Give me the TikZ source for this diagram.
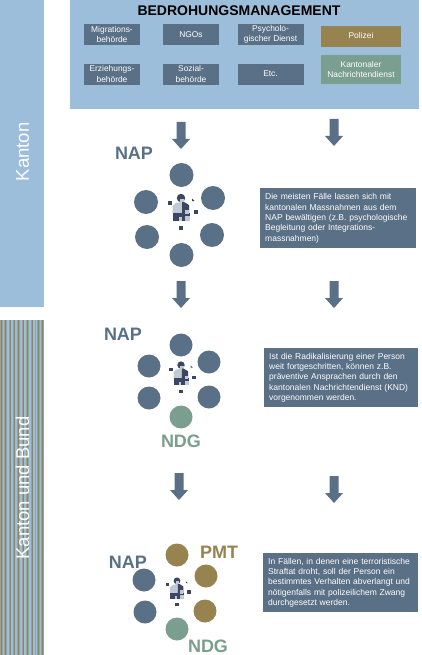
\documentclass[tikz,border=0pt]{standalone}
\usepackage{fontspec}
\setmainfont{Liberation Sans}
\definecolor{panelblue}{HTML}{9CBEDA}
\definecolor{slatebox}{HTML}{5A7086}
\definecolor{goldbox}{HTML}{97834F}
\definecolor{greenbox}{HTML}{7A9E8F}
\definecolor{icondark}{HTML}{3E4464}
\definecolor{iconlight}{HTML}{BFCAD4}
\definecolor{stripegrey}{HTML}{8FA3A8}
\tikzset{
  x=1pt,y=-1pt,
  orgbox/.style={rectangle,inner sep=0pt,text=white,align=center,font=\fontsize{8.4}{10.6}\selectfont,draw=panelblue,line width=.5pt},
  slate/.style={orgbox,fill=slatebox},
  textbox/.style={rectangle,fill=slatebox,text=white,anchor=north west,align=left,inner sep=0pt,font=\fontsize{8.5}{10.4}\selectfont},
  circ/.style={circle,inner sep=0pt,minimum size=#1},
  circ/.default=24pt,
  biglabel/.style={inner sep=0pt,font=\bfseries\fontsize{18}{20}\selectfont},
  sidelabel/.style={rotate=90,text=white,font=\fontsize{18.5}{20}\selectfont},
}
\newcommand{\blockarrow}[2]{\fill[slatebox] (#1-4.5,#2) -- (#1+4.5,#2) -- (#1+4.5,#2+17) -- (#1+9,#2+17) -- (#1,#2+27) -- (#1-9,#2+17) -- (#1-4.5,#2+17) -- cycle;}
\newcommand{\personicon}[3]{%
\begin{scope}[shift={(#1,#2)},scale=#3]
  \fill[icondark] (0,-9) circle (4.2);
  \fill[iconlight] (-1,-8.5) rectangle (3,-4.5);
  \fill[iconlight] (-8.5,6) -- (-8.5,-1) -- (-5,-4) -- (1,-5) -- (1,6) -- cycle;
  \fill[icondark] (1,-5) -- (3,-5) -- (8,-2) -- (8,7) -- (1,7) -- cycle;
  \fill[icondark] (-8.5,6) -- (9,6) -- (9,14) -- (-8.5,14) -- cycle;
  \fill[iconlight] (-2,10) rectangle (0.5,14);
  \fill[iconlight] (4,9) rectangle (9,14);
  \fill[iconlight] (4,3) rectangle (8,7);
  \fill[icondark] (-13.5,-6) rectangle (-9.5,-2);
  \fill[icondark] (13,3) rectangle (17,7);
  \fill[icondark] (-2,19) rectangle (2,23);
  \fill[icondark] (11,-8.5) -- (13.5,-6) -- (11,-6) -- cycle;
\end{scope}}
\begin{document}
\begin{tikzpicture}
\useasboundingbox (0,0) rectangle (422,655);
\fill[white] (0,0) rectangle (422,655);
% side bands
\fill[panelblue] (0,0) rectangle (44,307);
\fill[stripegrey] (0,320) rectangle (44,655);
\foreach \sx/\sw/\sc in {1/1/goldbox,2.5/1.5/panelblue,5/1/goldbox,6.5/2/panelblue,9.5/1/goldbox,11/1.5/panelblue,13.5/1/goldbox,15/2/panelblue,18/1/goldbox,20/1.5/panelblue,22.5/1/goldbox,24/2/panelblue,27/1/goldbox,29/1.5/panelblue,31.5/1/goldbox,33/1.5/panelblue,35.5/1.5/panelblue,38/1/goldbox,39.5/1.5/panelblue,42/1/goldbox}
  \fill[\sc] (\sx,320) rectangle (\sx+\sw,655);
\node[sidelabel] (kanton) at (22.5,152) {Kanton};
\node[sidelabel] (kantonbund) at (22.5,488) {Kanton und Bund};
% top panel
\fill[panelblue] (70,0) rectangle (419,109);
\node[font=\bfseries\fontsize{14}{16}\selectfont] (title) at (239,11) {BEDROHUNGSMANAGEMENT};
\node[slate,minimum width=57pt,minimum height=22pt] (mig) at (112,34.5) {Migrations-\\behörde};
\node[slate,minimum width=57pt,minimum height=22pt] (ngo) at (191,34.5) {NGOs};
\node[slate,minimum width=67pt,minimum height=22pt] (psy) at (270.5,34.5) {Psycholo-\\gischer Dienst};
\node[orgbox,fill=goldbox,minimum width=81pt,minimum height=22pt] (pol) at (361,36) {Polizei};
\node[slate,minimum width=57pt,minimum height=22pt] (erz) at (112,74) {Erziehungs-\\behörde};
\node[slate,minimum width=57pt,minimum height=22pt] (soz) at (191,74) {Sozial-\\behörde};
\node[slate,minimum width=67pt,minimum height=22pt] (etc) at (270.5,74) {Etc.};
\node[orgbox,fill=greenbox,minimum width=81pt,minimum height=30pt] (knd) at (361,69.5) {Kantonaler\\Nachrichtendienst};
% arrows
\blockarrow{181}{122}
\blockarrow{334}{119}
\blockarrow{181}{281}
\blockarrow{334}{281}
\blockarrow{179}{473}
\blockarrow{334}{476}
% group 1
\node[biglabel,text=slatebox] (nap1) at (134,153) {NAP};
\foreach \n/\cx/\cy in {a/181.5/175,b/146/202,c/213/198,d/147/237,e/212/235,f/181.5/255}
  \node[circ,fill=slatebox] (one\n) at (\cx,\cy) {};
\personicon{181}{207}{1}
\node[textbox,minimum width=156pt,minimum height=60pt,text width=146pt,inner xsep=5pt] (txt1) at (260,188) {Die meisten Fälle lassen sich mit\\kantonalen Massnahmen aus dem\\NAP bewältigen (z.B. psychologische\\Begleitung oder Integrations-\\massnahmen)};
% group 2
\node[biglabel,text=slatebox] (nap2) at (123,334) {NAP};
\foreach \n/\cx/\cy in {a/181/345,b/149/366,c/209/362,d/149/398,e/209/397}
  \node[circ=23pt,fill=slatebox] (two\n) at (\cx,\cy) {};
\node[circ=23pt,fill=greenbox] (twof) at (181,417) {};
\node[biglabel,text=greenbox] (ndg2) at (181,441) {NDG};
\personicon{181}{373}{.88}
\node[textbox,minimum width=154pt,minimum height=59pt,text width=144pt,inner xsep=5pt] (txt2) at (264,348) {Ist die Radikalisierung einer Person\\weit fortgeschritten, können z.B.\\präventive Ansprachen durch den\\kantonalen Nachrichtendienst (KND)\\vorgenommen werden.};
% group 3
\node[biglabel,text=slatebox] (nap3) at (128,562) {NAP};
\node[biglabel,text=goldbox] (pmt) at (219,552) {PMT};
\node[biglabel,text=greenbox] (ndg3) at (208,646) {NDG};
\foreach \n/\cx/\cy in {b/144/580,d/145/612}
  \node[circ=23pt,fill=slatebox] (three\n) at (\cx,\cy) {};
\foreach \n/\cx/\cy in {a/177/555,c/206/576,e/205/611}
  \node[circ=23pt,fill=goldbox] (three\n) at (\cx,\cy) {};
\node[circ=23pt,fill=greenbox] (threef) at (177,629) {};
\personicon{177}{588}{.8}
\node[textbox,minimum width=155pt,minimum height=59pt,text width=145pt,inner xsep=5pt] (txt3) at (263,553) {In Fällen, in denen eine terroristische\\Straftat droht, soll der Person ein\\bestimmtes Verhalten abverlangt und\\nötigenfalls mit polizeilichem Zwang\\durchgesetzt werden.};
\end{tikzpicture}
\end{document}
